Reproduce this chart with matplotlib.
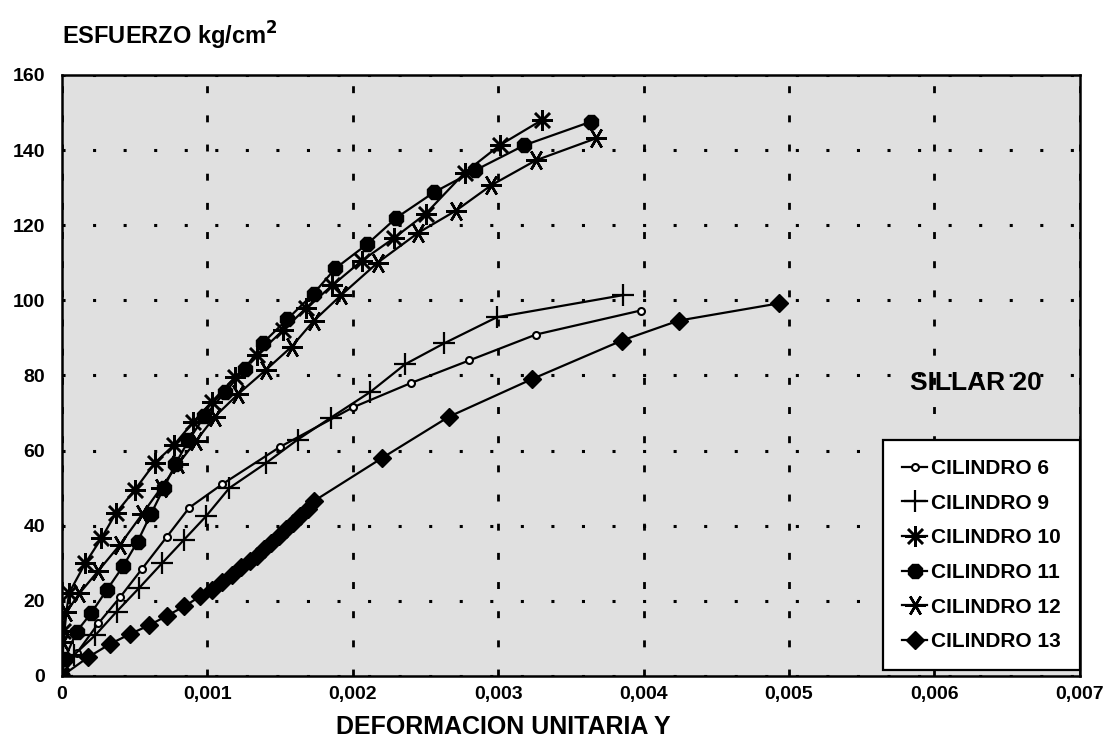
import numpy as np
import matplotlib
matplotlib.use("Agg")
import matplotlib.pyplot as plt
from matplotlib.ticker import FuncFormatter

plt.rcParams['font.family'] = ['Liberation Sans', 'DejaVu Sans']

# Datos (deformacion unitaria, esfuerzo kg/cm2)
x6 = [0, 0.0001, 0.00025, 0.0004, 0.00055, 0.00072, 0.000875, 0.0011, 0.0015,
      0.0020, 0.0024, 0.0028, 0.00326, 0.00398]
y6 = [0, 6, 14, 21, 28.5, 37, 44.8, 51, 61, 71.5, 78, 84, 90.9, 97.3]

x9 = [0, 0.00008, 0.00023, 0.000375, 0.00053, 0.00069, 0.00084, 0.00099, 0.00115,
      0.0014, 0.00162, 0.00185, 0.00212, 0.00236, 0.00263, 0.00299, 0.00386]
y9 = [0, 5.5, 10.9, 17.1, 23.4, 30.1, 36.3, 42.5, 50, 56.6, 62.9, 68.8, 75.6, 83,
      88.6, 95.5, 101.4]

x10 = [0, 0.00001, 0.00005, 0.00016, 0.00027, 0.00037, 0.0005, 0.00064, 0.00077,
       0.0009, 0.00103, 0.00119, 0.00134, 0.00152, 0.00168, 0.00186, 0.00206,
       0.00228, 0.0025, 0.00277, 0.00301, 0.0033]
y10 = [0, 12, 22.2, 30, 36.6, 43.3, 49.5, 56.8, 61.5, 67.5, 73, 79.5, 85.5, 92, 98,
       104, 110.5, 116.5, 123, 134, 141.3, 148]

x11 = [0, 0.00002, 0.0001, 0.0002, 0.00031, 0.00042, 0.00052, 0.00061, 0.0007,
       0.00078, 0.00087, 0.00098, 0.00112, 0.00126, 0.00138, 0.00155, 0.00173,
       0.00188, 0.0021, 0.0023, 0.00256, 0.00284, 0.00318, 0.00364]
y11 = [0, 4.6, 11.8, 16.7, 23, 29.2, 35.8, 43, 50, 56.4, 62.7, 69.1, 75.5, 81.8,
       88.6, 95, 101.8, 108.5, 115, 122, 128.8, 134.6, 141.3, 147.6]

x12 = [0, 0.00001, 0.00003, 0.00012, 0.00025, 0.0004, 0.00055, 0.00068, 0.0008,
       0.00092, 0.00105, 0.00121, 0.0014, 0.00158, 0.00173, 0.00192, 0.00217,
       0.00245, 0.00271, 0.00295, 0.00326, 0.00367]
y12 = [0, 9, 17, 22, 28, 35, 43, 50, 56.5, 62.5, 69, 75, 81.4, 87.7, 94.5, 101.4,
       110, 118, 123.9, 130.6, 137.3, 143.1]

x13 = [0, 0.00018, 0.00033, 0.00047, 0.0006, 0.00072, 0.00084, 0.00095, 0.00103,
       0.0011, 0.00117, 0.00123, 0.00129, 0.00134, 0.00139, 0.00144, 0.00149,
       0.00154, 0.00159, 0.00164, 0.00169, 0.00173, 0.0022, 0.00266, 0.00323,
       0.00385, 0.00424, 0.00493]
y13 = [0, 5, 8.5, 11.2, 13.5, 16, 18.5, 21.2, 23, 25, 27, 29, 30.5, 32, 33.8, 35.5,
       37.2, 39, 40.8, 42.6, 44.5, 46.5, 58, 69, 79, 89.3, 94.6, 99.2]

x_ticks = [0, 0.001, 0.002, 0.003, 0.004, 0.005, 0.006, 0.007]
y_ticks = [0, 20, 40, 60, 80, 100, 120, 140, 160]

fig = plt.figure(figsize=(11.13, 7.53), dpi=100)
ax = fig.add_axes([0.0557, 0.1023, 0.9145, 0.7981])
ax.set_facecolor('#e0e0e0')

kw = dict(color='black', lw=1.6)
ax.plot(x6, y6, marker='o', ms=5, mfc='white', mec='black', mew=1.5, label='CILINDRO 6', **kw)
ax.plot(x9, y9, marker='+', ms=16, mew=1.6, label='CILINDRO 9', **kw)
ax.plot(x10, y10, marker=(8, 2, 0), ms=15, mew=1.8, label='CILINDRO 10', **kw)
ax.plot(x11, y11, marker='8', ms=11, mfc='black', mec='black', label='CILINDRO 11', **kw)
ax.plot(x12, y12, marker=(6, 2, 90), ms=15, mew=1.8, label='CILINDRO 12', **kw)
ax.plot(x13, y13, marker='D', ms=9, mfc='black', mec='black', label='CILINDRO 13', **kw)

ax.set_xlim(0, 0.007)
ax.set_ylim(0, 160)
ax.set_xticks(x_ticks)
ax.set_yticks(y_ticks)
ax.xaxis.set_major_formatter(FuncFormatter(lambda v, p: '0' if v == 0 else f'{v:.3f}'.replace('.', ',')))
ax.tick_params(length=0, labelsize=14)
ax.tick_params(axis='x', pad=7)
ax.tick_params(axis='y', pad=12)
for lab in ax.get_xticklabels() + ax.get_yticklabels():
    lab.set_fontweight('bold')

ax.yaxis.grid(True, color='black', lw=2.2, linestyle=(0, (1, 9)))
ax.xaxis.grid(True, color='black', lw=2.0, linestyle=(0, (2.5, 8)))
ax.set_axisbelow(True)
for s in ax.spines.values():
    s.set_linewidth(1.8)

leg = ax.legend(loc='lower right', bbox_to_anchor=(1.0, 0.01), borderaxespad=0,
                fancybox=False, framealpha=1, edgecolor='black',
                handlelength=1.2, handletextpad=0.2, labelspacing=0.75,
                borderpad=0.9, prop={'weight': 'bold', 'size': 15})
leg.get_frame().set_linewidth(1.6)

ax.text(0.898, 0.4875, 'SILLAR 20', transform=ax.transAxes, ha='center', va='center',
        fontsize=19, fontweight='bold')

fig.text(0.056, 0.952, r'ESFUERZO kg/cm$^{\mathbf{2}}$', fontsize=17, fontweight='bold',
         ha='left', va='center')
fig.text(0.452, 0.035, 'DEFORMACION UNITARIA Y', fontsize=18, fontweight='bold',
         ha='center', va='center')

fig.savefig('out.png', dpi=100)
